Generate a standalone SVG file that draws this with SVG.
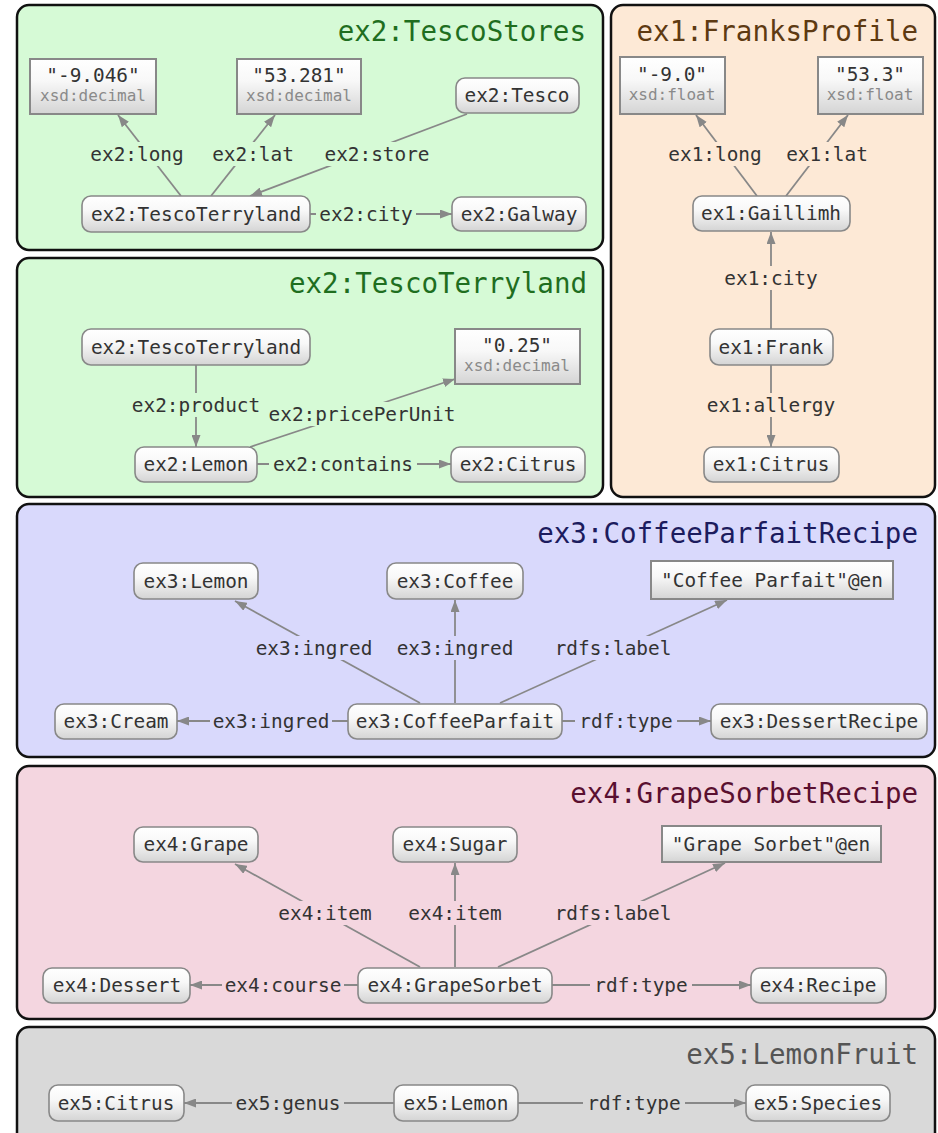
<svg xmlns="http://www.w3.org/2000/svg" width="938" height="1133" viewBox="0 0 938 1133">
<defs>
<linearGradient id="ng" x1="0" y1="0" x2="0" y2="1"><stop offset="0" stop-color="#ffffff"/><stop offset="0.4" stop-color="#f8f8f8"/><stop offset="1" stop-color="#d4d4d4"/></linearGradient>
<marker id="ah" viewBox="0 0 12 9" refX="12" refY="4.5" markerWidth="12" markerHeight="9" markerUnits="userSpaceOnUse" orient="auto"><path d="M0,0 L12,4.5 L0,9 z" fill="#888"/></marker>
<style>
.panel{stroke:#111;stroke-width:2.5}
.t{font-family:"DejaVu Sans Mono","Liberation Mono",monospace;font-size:19.4px;fill:#333;text-anchor:middle}
.dt{font-family:"DejaVu Sans Mono","Liberation Mono",monospace;font-size:16px;fill:#8a8a8a;text-anchor:middle}
.title{font-family:"DejaVu Sans Mono","Liberation Mono",monospace;font-size:27.5px;text-anchor:end}
.node{fill:url(#ng);stroke:#888;stroke-width:1.6}
.lit{fill:url(#ng);stroke:#888;stroke-width:2}
.e{stroke:#888;stroke-width:1.8;fill:none}
.a{marker-end:url(#ah)}
.g{fill:#d6fad6}.o{fill:#fde9d6}.b{fill:#d9d9fc}.p{fill:#f4d6e0}.y{fill:#d9d9d9}
</style>
</defs>
<g id="panels">
<rect class="panel g" x="17" y="5" width="586" height="245" rx="12"/>
<text class="title" x="586" y="41" fill="#1f6e1f">ex2:TescoStores</text>
<rect class="panel o" x="611" y="5" width="324" height="492" rx="12"/>
<text class="title" x="918" y="41" fill="#5e3a12">ex1:FranksProfile</text>
<rect class="panel g" x="17" y="258" width="586" height="239" rx="12"/>
<text class="title" x="587" y="293" fill="#1f6e1f">ex2:TescoTerryland</text>
<rect class="panel b" x="17" y="504" width="918" height="253" rx="12"/>
<text class="title" x="918" y="543" fill="#1c1c5e">ex3:CoffeeParfaitRecipe</text>
<rect class="panel p" x="17" y="766" width="918" height="253" rx="12"/>
<text class="title" x="918" y="803" fill="#5a1030">ex4:GrapeSorbetRecipe</text>
<rect class="panel y" x="17" y="1027" width="918" height="120" rx="12"/>
<text class="title" x="918" y="1064" fill="#555">ex5:LemonFruit</text>
</g>
<g id="connectors">
<!-- panel 1 -->
<line class="e a" x1="181" y1="196" x2="118" y2="115"/>
<line class="e a" x1="211" y1="196" x2="275" y2="115"/>
<line class="e a" x1="467" y1="114" x2="250" y2="196"/>
<line class="e a" x1="310" y1="214" x2="452" y2="214"/>
<rect class="g" x="88" y="142" width="98" height="24"/><text class="t" x="137" y="161">ex2:long</text>
<rect class="g" x="208" y="142" width="90" height="24"/><text class="t" x="253" y="161">ex2:lat</text>
<rect class="g" x="323" y="142" width="109" height="24"/><text class="t" x="377" y="161">ex2:store</text>
<rect class="g" x="316" y="202" width="100" height="24"/><text class="t" x="366" y="221">ex2:city</text>
<!-- panel 2 -->
<line class="e a" x1="757" y1="196" x2="696" y2="115"/>
<line class="e a" x1="786" y1="196" x2="848" y2="115"/>
<line class="e a" x1="771" y1="329" x2="771" y2="232"/>
<line class="e a" x1="771" y1="365" x2="771" y2="447"/>
<rect class="o" x="666" y="142" width="98" height="24"/><text class="t" x="715" y="161">ex1:long</text>
<rect class="o" x="782" y="142" width="90" height="24"/><text class="t" x="827" y="161">ex1:lat</text>
<rect class="o" x="721" y="266" width="100" height="24"/><text class="t" x="771" y="285">ex1:city</text>
<rect class="o" x="704" y="393" width="134" height="24"/><text class="t" x="771" y="412">ex1:allergy</text>
<!-- panel 3 -->
<line class="e a" x1="196" y1="365" x2="196" y2="447"/>
<line class="e a" x1="250" y1="447" x2="455" y2="379"/>
<line class="e a" x1="257" y1="464" x2="451" y2="464"/>
<rect class="g" x="128" y="393" width="136" height="24"/><text class="t" x="196" y="412">ex2:product</text>
<rect class="g" x="265" y="402" width="194" height="24"/><text class="t" x="362" y="421">ex2:pricePerUnit</text>
<rect class="g" x="269" y="452" width="148" height="24"/><text class="t" x="343" y="471">ex2:contains</text>
<!-- panel 4 -->
<line class="e a" x1="420" y1="703" x2="235" y2="601"/>
<line class="e a" x1="455" y1="703" x2="455" y2="600"/>
<line class="e a" x1="500" y1="703" x2="727" y2="600"/>
<line class="e a" x1="348" y1="721" x2="177" y2="721"/>
<line class="e a" x1="562" y1="721" x2="711" y2="721"/>
<rect class="b" x="253" y="636" width="122" height="24"/><text class="t" x="314" y="655">ex3:ingred</text>
<rect class="b" x="394" y="636" width="122" height="24"/><text class="t" x="455" y="655">ex3:ingred</text>
<rect class="b" x="552" y="636" width="122" height="24"/><text class="t" x="613" y="655">rdfs:label</text>
<rect class="b" x="210" y="709" width="122" height="24"/><text class="t" x="271" y="728">ex3:ingred</text>
<rect class="b" x="575" y="709" width="102" height="24"/><text class="t" x="626" y="728">rdf:type</text>
<!-- panel 5 -->
<line class="e a" x1="420" y1="967" x2="235" y2="864"/>
<line class="e a" x1="455" y1="967" x2="455" y2="863"/>
<line class="e a" x1="498" y1="967" x2="725" y2="863"/>
<line class="e a" x1="358" y1="985" x2="190" y2="985"/>
<line class="e a" x1="552" y1="985" x2="751" y2="985"/>
<rect class="p" x="272" y="901" width="106" height="24"/><text class="t" x="325" y="920">ex4:item</text>
<rect class="p" x="402" y="901" width="106" height="24"/><text class="t" x="455" y="920">ex4:item</text>
<rect class="p" x="552" y="901" width="122" height="24"/><text class="t" x="613" y="920">rdfs:label</text>
<rect class="p" x="222" y="973" width="122" height="24"/><text class="t" x="283" y="992">ex4:course</text>
<rect class="p" x="590" y="973" width="102" height="24"/><text class="t" x="641" y="992">rdf:type</text>
<!-- panel 6 -->
<line class="e a" x1="394" y1="1103" x2="184" y2="1103"/>
<line class="e a" x1="518" y1="1103" x2="746" y2="1103"/>
<rect class="y" x="232" y="1091" width="112" height="24"/><text class="t" x="288" y="1110">ex5:genus</text>
<rect class="y" x="583" y="1091" width="102" height="24"/><text class="t" x="634" y="1110">rdf:type</text>
</g>
<g id="n-lit-9046"><rect class="lit" x="30" y="59" width="126" height="55"/><text class="t" x="93" y="82">"-9.046"</text><text class="dt" x="93" y="101">xsd:decimal</text></g>
<g id="n-lit-53281"><rect class="lit" x="237" y="59" width="124" height="55"/><text class="t" x="299" y="82">"53.281"</text><text class="dt" x="299" y="101">xsd:decimal</text></g>
<g id="n-ex2-Tesco"><rect class="node" x="456" y="78" width="123" height="35" rx="9"/><text class="t" x="517" y="102">ex2:Tesco</text></g>
<g id="n-ex2-TescoTerryland-1"><rect class="node" x="82" y="196" width="228" height="36" rx="9"/><text class="t" x="196" y="221">ex2:TescoTerryland</text></g>
<g id="n-ex2-Galway"><rect class="node" x="452" y="197" width="134" height="34" rx="9"/><text class="t" x="519" y="221">ex2:Galway</text></g>
<g id="n-lit-90"><rect class="lit" x="620" y="57" width="105" height="57"/><text class="t" x="672" y="81">"-9.0"</text><text class="dt" x="672" y="100">xsd:float</text></g>
<g id="n-lit-533"><rect class="lit" x="818" y="57" width="105" height="57"/><text class="t" x="870" y="81">"53.3"</text><text class="dt" x="870" y="100">xsd:float</text></g>
<g id="n-ex1-Gaillimh"><rect class="node" x="693" y="196" width="157" height="35" rx="9"/><text class="t" x="771" y="220">ex1:Gaillimh</text></g>
<g id="n-ex1-Frank"><rect class="node" x="710" y="329" width="123" height="36" rx="9"/><text class="t" x="771" y="354">ex1:Frank</text></g>
<g id="n-ex1-Citrus"><rect class="node" x="704" y="447" width="135" height="35" rx="9"/><text class="t" x="771" y="471">ex1:Citrus</text></g>
<g id="n-ex2-TescoTerryland-2"><rect class="node" x="82" y="329" width="228" height="36" rx="9"/><text class="t" x="196" y="354">ex2:TescoTerryland</text></g>
<g id="n-ex2-Lemon"><rect class="node" x="135" y="447" width="122" height="35" rx="9"/><text class="t" x="196" y="471">ex2:Lemon</text></g>
<g id="n-lit-025"><rect class="lit" x="455" y="329" width="125" height="55"/><text class="t" x="517" y="352">"0.25"</text><text class="dt" x="517" y="371">xsd:decimal</text></g>
<g id="n-ex2-Citrus"><rect class="node" x="451" y="447" width="134" height="35" rx="9"/><text class="t" x="518" y="471">ex2:Citrus</text></g>
<g id="n-ex3-Lemon"><rect class="node" x="134" y="563" width="124" height="36" rx="9"/><text class="t" x="196" y="588">ex3:Lemon</text></g>
<g id="n-ex3-Coffee"><rect class="node" x="387" y="563" width="136" height="36" rx="9"/><text class="t" x="455" y="588">ex3:Coffee</text></g>
<g id="n-lit-coffee"><rect class="lit" x="651" y="561" width="242" height="38"/><text class="t" x="772" y="587">"Coffee Parfait"@en</text></g>
<g id="n-ex3-Cream"><rect class="node" x="55" y="704" width="122" height="35" rx="9"/><text class="t" x="116" y="728">ex3:Cream</text></g>
<g id="n-ex3-CoffeeParfait"><rect class="node" x="348" y="704" width="214" height="35" rx="9"/><text class="t" x="455" y="728">ex3:CoffeeParfait</text></g>
<g id="n-ex3-DessertRecipe"><rect class="node" x="711" y="704" width="216" height="35" rx="9"/><text class="t" x="819" y="728">ex3:DessertRecipe</text></g>
<g id="n-ex4-Grape"><rect class="node" x="134" y="827" width="124" height="35" rx="9"/><text class="t" x="196" y="851">ex4:Grape</text></g>
<g id="n-ex4-Sugar"><rect class="node" x="393" y="827" width="124" height="35" rx="9"/><text class="t" x="455" y="851">ex4:Sugar</text></g>
<g id="n-lit-grape"><rect class="lit" x="662" y="826" width="219" height="36" /><text class="t" x="771" y="851">"Grape Sorbet"@en</text></g>
<g id="n-ex4-Dessert"><rect class="node" x="43" y="968" width="147" height="35" rx="9"/><text class="t" x="117" y="992">ex4:Dessert</text></g>
<g id="n-ex4-GrapeSorbet"><rect class="node" x="358" y="968" width="194" height="35" rx="9"/><text class="t" x="455" y="992">ex4:GrapeSorbet</text></g>
<g id="n-ex4-Recipe"><rect class="node" x="751" y="968" width="135" height="35" rx="9"/><text class="t" x="818" y="992">ex4:Recipe</text></g>
<g id="n-ex5-Citrus"><rect class="node" x="49" y="1085" width="135" height="36" rx="9"/><text class="t" x="116" y="1110">ex5:Citrus</text></g>
<g id="n-ex5-Lemon"><rect class="node" x="394" y="1085" width="124" height="36" rx="9"/><text class="t" x="456" y="1110">ex5:Lemon</text></g>
<g id="n-ex5-Species"><rect class="node" x="746" y="1085" width="144" height="36" rx="9"/><text class="t" x="818" y="1110">ex5:Species</text></g>
</svg>
